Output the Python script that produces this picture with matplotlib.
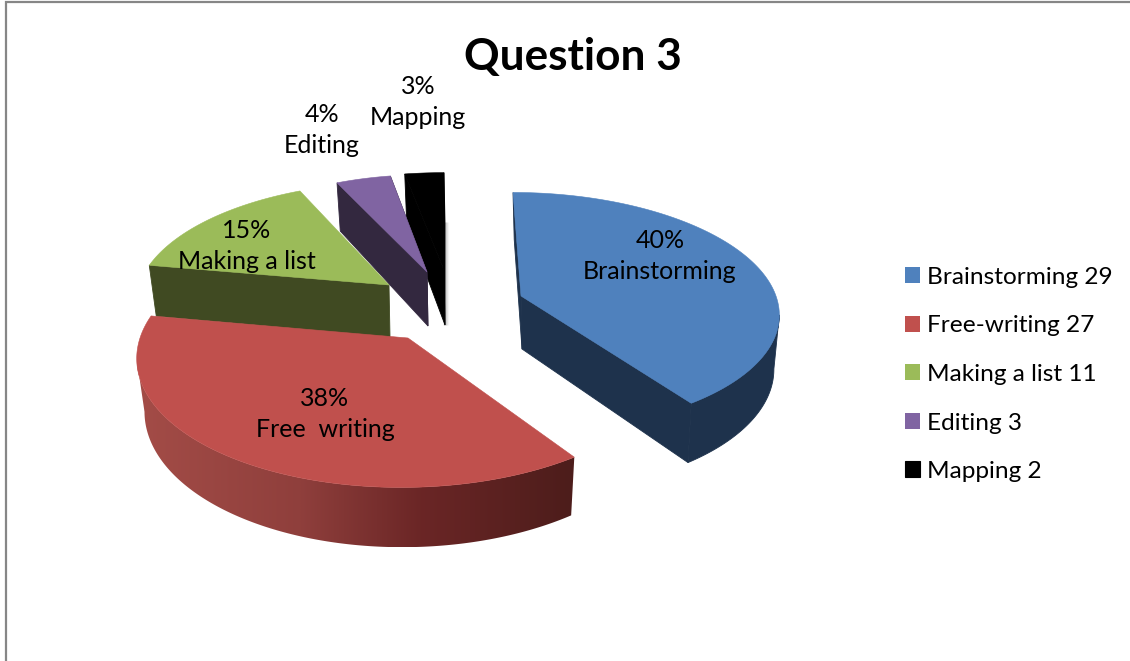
import numpy as np
import matplotlib
matplotlib.use('Agg')
import matplotlib.pyplot as plt
from matplotlib.colors import to_rgb
from matplotlib.patches import Patch, Polygon

plt.rcParams['font.family'] = ['Lato', 'DejaVu Sans']

categories = ['Brainstorming', 'Free-writing', 'Making a list', 'Editing', 'Mapping']
counts = [29, 27, 11, 3, 2]
slice_names = ['Brainstorming', 'Free  writing', 'Making a list', 'Editing', 'Mapping']
percents = ['40%', '38%', '15%', '4%', '3%']

top_colors = ['#4F81BD', '#C0504D', '#9BBB59', '#8064A2', '#000000']
side_colors = ['#1E324C', '#4D1D1B', '#404A22', '#33283F', '#000000']

# layout in pixels, the axes cover the whole figure
apex_x = [521, 408, 389, 427, 444]
apex_y = [296, 338, 285, 272, 270]
radius_x = [255, 268, 250, 238, 255]
radius_y = [117, 130, 116, 110, 110]
skew = [8, -7, -6, 0, 0]
depth = [53, 52, 52, 54, 55]
label_x = [660, 325, 247, 322, 418]
label_y = [256, 414, 246, 130, 102]
PERSPECTIVE = 0.13
RIM_SHRINK = 0.975

# outer wall of the red slice goes darker to the right
red_wall_x = [140, 300, 420, 570]
red_wall_c = ['#A34C47', '#8F3F3C', '#6B2626', '#4D1D1B']


def project(i, theta):
    # theta is clockwise from 12 o'clock, front = +1 at 6 o'clock
    front = -np.cos(theta)
    w = 1 / (1 - PERSPECTIVE * front)
    x = apex_x[i] + radius_x[i] * np.sin(theta) * w + skew[i] * front
    y = apex_y[i] + radius_y[i] * front * w
    xb = apex_x[i] + (x - apex_x[i]) * RIM_SHRINK + 1
    yb = y + depth[i] * w
    return x, y, xb, yb


fig = plt.figure(figsize=(11.3, 6.61), dpi=100)
ax = fig.add_axes([0, 0, 1, 1])

# frame of the chart area, only top and left are in the picture
ax.plot([6, 6, 1130], [661, 2, 2], color='#868686', lw=1.6, solid_joinstyle='miter')

edges = np.radians(np.concatenate([[0], np.cumsum(counts)]) * 360 / np.sum(counts))

# painted back to front: Mapping, Editing, Making a list, Free-writing, Brainstorming
for i in [4, 3, 2, 1, 0]:
    theta = np.linspace(edges[i], edges[i + 1], 200)
    x, y, xb, yb = project(i, theta)
    ax0, ay0 = apex_x[i], apex_y[i]
    ax0b, ay0b = ax0 + 1, ay0 + depth[i]

    if i == 4:
        # soft shadow right of the black slice
        for k in range(1, 6):
            ax.plot([x.max() + k - 0.5] * 2, [apex_y[i] - 48, ay0b], color='#000000',
                    alpha=0.28 - 0.05 * k, lw=1, solid_capstyle='butt')

    # cut faces, both faces of red and the end face of green are hidden
    if i != 1:
        ax.fill([ax0, x[0], xb[0], ax0b], [ay0, y[0], yb[0], ay0b], color=side_colors[i], lw=0.6)
    if i in (0, 3, 4):
        ax.fill([ax0, x[-1], xb[-1], ax0b], [ay0, y[-1], yb[-1], ay0b], color=side_colors[i], lw=0.6)

    # outer wall, only the part that faces the viewer
    if i == 0:
        keep = np.arange(np.argmax(x), len(x))
    elif i == 1:
        keep = np.arange(0, np.argmin(x) + 1)
    else:
        keep = []
    if len(keep):
        wx = np.concatenate([x[keep], xb[keep][::-1]])
        wy = np.concatenate([y[keep], yb[keep][::-1]])
        if i == 1:
            rgb = np.array([to_rgb(c) for c in red_wall_c])
            px = np.linspace(wx.min(), wx.max(), 256)
            grad = np.stack([np.interp(px, red_wall_x, rgb[:, k]) for k in range(3)], axis=1)
            im = ax.imshow(grad[None], extent=[wx.min(), wx.max(), wy.max(), wy.min()],
                           aspect='auto', zorder=1, interpolation='bilinear')
            clip = Polygon(np.column_stack([wx, wy]), transform=ax.transData)
            im.set_clip_path(clip)
        else:
            ax.fill(wx, wy, color=side_colors[i], lw=0.6)

    # top
    ax.fill(np.concatenate([[ax0], x]), np.concatenate([[ay0], y]), color=top_colors[i], lw=0.4)

ax.set_xlim(0, 1130)
ax.set_ylim(661, 0)
ax.axis('off')

for i in range(len(slice_names)):
    ax.text(label_x[i], label_y[i], percents[i] + '\n' + slice_names[i], ha='center', va='center',
            fontsize=18, color='black', linespacing=1.45, zorder=5)

ax.text(573, 57, 'Question 3', ha='center', va='center', fontsize=31.8, fontweight='bold',
        color='black', zorder=5)

handles = [Patch(facecolor=c, edgecolor=c, lw=0.8 if c == '#000000' else 0) for c in top_colors]
labels = [f'{c} {v}' for c, v in zip(categories, counts)]
ax.legend(handles, labels, loc='upper left', bbox_to_anchor=(905, 267), bbox_transform=ax.transData,
          frameon=False, fontsize=17.6, handlelength=0.62, handleheight=0.62, handletextpad=0.28,
          labelspacing=1.125, borderpad=0, borderaxespad=0)

fig.savefig('out.png', dpi=100)
